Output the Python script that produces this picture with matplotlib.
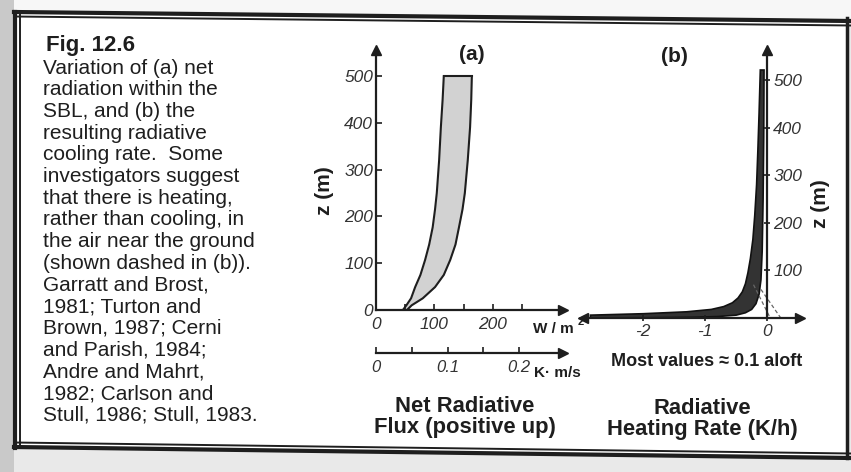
import matplotlib
matplotlib.use("Agg")
import matplotlib.pyplot as plt
from matplotlib.lines import Line2D
from matplotlib.patches import Polygon

plt.rcParams["font.family"] = ["Liberation Sans", "DejaVu Sans"]

W, H = 851, 472
INK = "#1e1e1e"

# caption text (left block)
caption_title = "Fig. 12.6"
caption_lines = [
    "Variation of (a) net",
    "radiation within the",
    "SBL, and (b) the",
    "resulting radiative",
    "cooling rate.  Some",
    "investigators suggest",
    "that there is heating,",
    "rather than cooling, in",
    "the air near the ground",
    "(shown dashed in (b)).",
    "Garratt and Brost,",
    "1981; Turton and",
    "Brown, 1987; Cerni",
    "and Parish, 1984;",
    "Andre and Mahrt,",
    "1982; Carlson and",
    "Stull, 1986; Stull, 1983.",
]

# (a) net radiative flux envelope, W/m^2 vs z (m)
z_a = [0, 10, 25, 49, 75, 107, 140, 177, 215, 250, 320, 391, 450, 500]
flux_left = [46, 52, 60, 67, 76, 84, 91, 97, 101, 104, 108, 111, 114, 116]
flux_right = [53, 61, 80, 101, 116, 127, 136, 142, 148, 152, 157, 161, 163, 164]
a_yticks = [0, 100, 200, 300, 400, 500]
a_xticks = [0, 50, 100, 150, 200, 250]
a_xlabels = ["0", "", "100", "", "200", ""]
k_ticks = [0, 0.05, 0.1, 0.15, 0.2]
k_labels = ["0", "", "0.1", "", "0.2"]

# (b) radiative heating rate band, K/h vs z (m)
b_outer_x = [-0.11, -0.13, -0.15, -0.17, -0.20, -0.23, -0.27, -0.31, -0.35, -0.40,
             -0.47, -0.56, -0.70, -0.90, -1.30, -2.00, -2.85]
b_outer_z = [521, 430, 350, 280, 215, 165, 125, 95, 72, 55, 42, 32, 24, 18, 13, 9, 6]
b_inner_x = [-2.85, -2.00, -1.20, -0.80, -0.50, -0.35, -0.25, -0.18, -0.13, -0.10,
             -0.08, -0.065, -0.055, -0.05]
b_inner_z = [0, 0.5, 1.5, 3, 6, 11, 18, 30, 50, 80, 140, 250, 380, 521]
dash1_x, dash1_z = [-0.22, 0.05], [70, 0]
dash2_x, dash2_z = [-0.10, 0.22], [60, 0]
b_yticks = [100, 200, 300, 400, 500]
b_xticks = [-2, -1, 0]


def px_axes(fig, x0, y0, x1, y1):
    return fig.add_axes([x0 / W, 1 - y1 / H, (x1 - x0) / W, (y1 - y0) / H])


def italic(labels):
    for t in labels:
        t.set_fontstyle("italic")


fig = plt.figure(figsize=(W / 100, H / 100), dpi=100)
fig.patch.set_facecolor("#e9e9e9")

# page frame (slightly skewed like the scan)
bg = fig.add_axes([0, 0, 1, 1])
bg.set_xlim(0, W)
bg.set_ylim(H, 0)
bg.axis("off")
bg.add_patch(Polygon([(0, 0), (14, 0), (14, H), (0, H)], color="#c9c9c9", lw=0))
bg.add_patch(Polygon([(14, 0), (W, 0), (W, 20), (14, 12)], color="#f7f7f7", lw=0))
bg.add_patch(Polygon([(15, 13), (847, 21), (847, 456), (15, 446)], color="white", lw=0))
for off, lw in [(0, 3.0), (4.5, 1.4)]:
    bg.add_line(Line2D([14, W], [12 + off, 21 + off], color=INK, lw=lw))
    bg.add_line(Line2D([14, W], [447 - off, 458 - off], color=INK, lw=lw))
    bg.add_line(Line2D([15 + off, 15 + off], [12, 448], color=INK, lw=lw))
bg.add_line(Line2D([847, 847], [18, 458], color=INK, lw=2.5))

# caption
bg.text(46, 45, caption_title, fontsize=16, fontweight="bold", color=INK, va="center")
for i, line in enumerate(caption_lines):
    bg.text(43, 68 + i * 21.7, line, fontsize=15, color=INK, va="center")

# ---- panel (a)
ax = px_axes(fig, 376, 50, 563, 310)
ax.set_xlim(0, 320)
ax.set_ylim(0, 556)
ax.patch.set_alpha(0)
for s in ["top", "right"]:
    ax.spines[s].set_visible(False)
for s in ["left", "bottom"]:
    ax.spines[s].set_linewidth(1.6)
    ax.spines[s].set_color(INK)
ax.fill_betweenx(z_a, flux_left, flux_right, color="#d2d2d2", lw=0)
ax.plot(flux_left, z_a, color=INK, lw=1.5)
ax.plot(flux_right, z_a, color=INK, lw=1.5)
ax.plot([flux_left[-1], flux_right[-1]], [z_a[-1], z_a[-1]], color=INK, lw=1.5)
ax.set_yticks(a_yticks)
ax.set_yticklabels([str(v) for v in a_yticks])
ax.set_xticks(a_xticks)
ax.set_xticklabels(a_xlabels)
ax.tick_params(direction="in", length=4, width=1.2, color=INK, labelsize=12.5,
               labelcolor="#333333")
ax.tick_params(axis="x", pad=5)
ax.tick_params(axis="y", pad=2)
italic(ax.get_xticklabels() + ax.get_yticklabels())
ax.plot(1, 0, ">", color=INK, ms=7, transform=ax.transAxes, clip_on=False)
ax.plot(0, 1, "^", color=INK, ms=7, transform=ax.transAxes, clip_on=False)
bg.text(472, 55, "(a)", fontsize=15, fontweight="bold", color=INK, ha="center", va="center")
bg.text(324, 191, "z (m)", fontsize=15, fontweight="bold", color=INK, rotation=90,
        ha="center", va="center")
bg.text(533, 329, "W / m", fontsize=11, fontweight="bold", color=INK, va="center")
bg.text(578, 322, "2", fontsize=8, fontweight="bold", color=INK, va="center")

# K m/s scale
axk = px_axes(fig, 376, 351, 563, 353)
axk.set_xlim(0, 0.261)
axk.set_ylim(0, 1)
axk.patch.set_alpha(0)
for s in ["top", "right", "left"]:
    axk.spines[s].set_visible(False)
axk.spines["bottom"].set_linewidth(1.6)
axk.spines["bottom"].set_color(INK)
axk.set_yticks([])
axk.set_xticks(k_ticks)
axk.set_xticklabels(k_labels)
axk.tick_params(direction="in", length=4, width=1.2, color=INK, labelsize=12,
                labelcolor="#333333", pad=5)
italic(axk.get_xticklabels())
axk.plot(1, 0, ">", color=INK, ms=7, transform=axk.transAxes, clip_on=False)
bg.text(534, 373, "K· m/s", fontsize=11, fontweight="bold", color=INK, va="center")

# ---- panel (b)
bx = px_axes(fig, 583, 50, 800, 318)
bx.set_xlim(-2.97, 0.53)
bx.set_ylim(0, 563)
bx.patch.set_alpha(0)
bx.spines["top"].set_visible(False)
bx.spines["left"].set_visible(False)
bx.spines["right"].set_position(("data", 0))
for s in ["right", "bottom"]:
    bx.spines[s].set_linewidth(1.6)
    bx.spines[s].set_color(INK)
band = list(zip(b_outer_x, b_outer_z)) + list(zip(b_inner_x, b_inner_z))
bx.add_patch(Polygon(band, closed=True, facecolor="#333333", edgecolor="#111111", lw=1.2))
bx.plot(dash1_x, dash1_z, color="#666666", lw=0.9, ls=(0, (3, 2)))
bx.plot(dash2_x, dash2_z, color="#666666", lw=0.9, ls=(0, (3, 2)))
bx.yaxis.set_ticks_position("right")
bx.set_yticks(b_yticks)
bx.set_yticklabels([str(v) for v in b_yticks])
bx.set_xticks(b_xticks)
bx.set_xticklabels(["-2", "-1", "0"])
bx.tick_params(direction="inout", length=5, width=1.2, color=INK, labelsize=12.5,
               labelcolor="#333333", pad=2)
italic(bx.get_xticklabels() + bx.get_yticklabels())
bx.plot(1, 0, ">", color=INK, ms=7, transform=bx.transAxes, clip_on=False)
bx.plot(0, 0, "<", color=INK, ms=7, transform=bx.transAxes, clip_on=False)
bx.plot(0, 1, "^", color=INK, ms=7, transform=bx.get_xaxis_transform(), clip_on=False)
bg.text(674, 57, "(b)", fontsize=15, fontweight="bold", color=INK, ha="center", va="center")
bg.text(821, 204, "z (m)", fontsize=15, fontweight="bold", color=INK, rotation=90,
        ha="center", va="center")
bg.text(707, 361, "Most values \u2248 0.1 aloft", fontsize=13, fontweight="bold",
        color=INK, ha="center", va="center")

# bottom titles
bg.text(465, 407, "Net Radiative", fontsize=15.8, fontweight="bold",
        color=INK, ha="center", va="center")
bg.text(465, 428, "Flux (positive up)", fontsize=15.8, fontweight="bold",
        color=INK, ha="center", va="center")
bg.text(702, 408, "Radiative", fontsize=15.8, fontweight="bold",
        color=INK, ha="center", va="center")
bg.text(702, 429, "Heating Rate (K/h)", fontsize=15.8, fontweight="bold",
        color=INK, ha="center", va="center")

fig.savefig("out.png", dpi=100, facecolor=fig.get_facecolor())
